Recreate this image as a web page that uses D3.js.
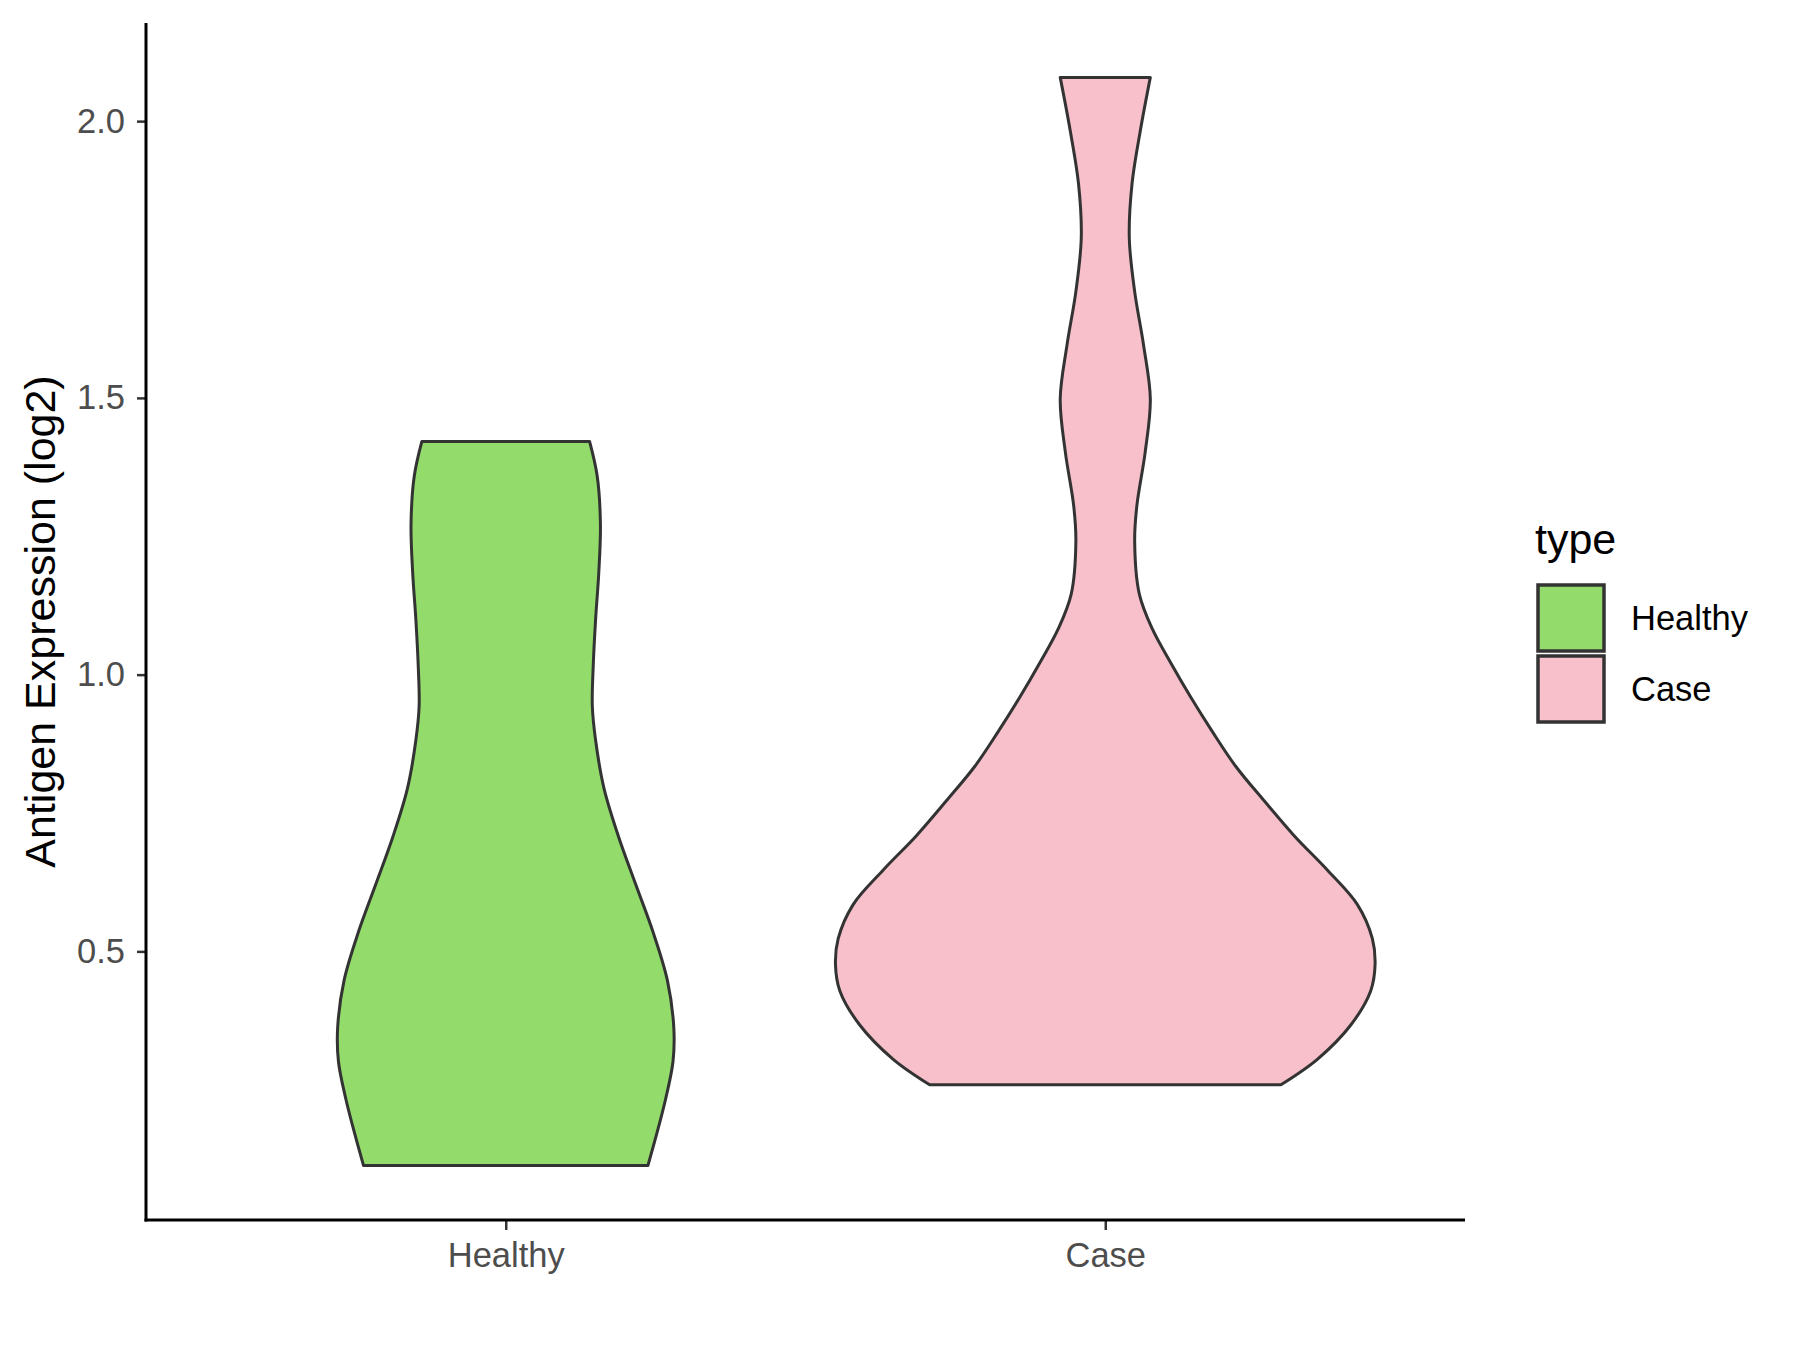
<!DOCTYPE html>
<html>
<head>
<meta charset="utf-8">
<script src="https://cdn.jsdelivr.net/npm/d3@7"></script>
<style>
  html, body { margin: 0; padding: 0; background: #ffffff; }
  svg { display: block; font-family: "Liberation Sans", Arial, Helvetica, sans-serif; }
</style>
</head>
<body>
<svg id="chart" width="1800" height="1350"></svg>
<script>
// ---- data ----
const categories = ["Healthy", "Case"];
const fillColors = ["#93DB6B", "#F7C0CB"];
const yTicks = [0.5, 1.0, 1.5, 2.0];
const yTickLabels = ["0.5", "1.0", "1.5", "2.0"];

// violin outline samples: value (log2) and relative half-width (1 = widest violin)
const healthyValues = [1.421, 1.359, 1.272, 1.185, 1.099, 1.012, 0.943, 0.882, 0.795, 0.709, 0.622, 0.535, 0.448, 0.362, 0.301, 0.232, 0.162, 0.113];
const healthyWidths = [0.311, 0.339, 0.351, 0.345, 0.333, 0.324, 0.321, 0.333, 0.364, 0.417, 0.481, 0.546, 0.599, 0.623, 0.620, 0.592, 0.555, 0.527];

const caseValues = [2.079, 1.983, 1.886, 1.789, 1.692, 1.595, 1.498, 1.402, 1.305, 1.241, 1.146, 1.083, 1.021, 0.959, 0.897, 0.834, 0.772, 0.709, 0.647, 0.585, 0.523, 0.476, 0.429, 0.367, 0.305, 0.259];
const caseWidths = [0.167, 0.130, 0.099, 0.089, 0.109, 0.142, 0.167, 0.148, 0.117, 0.109, 0.126, 0.174, 0.243, 0.317, 0.397, 0.484, 0.589, 0.700, 0.823, 0.934, 0.990, 1.000, 0.984, 0.910, 0.786, 0.651];

const yTitle = "Antigen Expression (log2)";
const legendTitle = "type";

// ---- layout ----
const panel = { left: 146, right: 1465, top: 23, bottom: 1220 };

const svg = d3.select("#chart");

const allValues = healthyValues.concat(caseValues);
const lo = d3.min(allValues), hi = d3.max(allValues);
const span = hi - lo;

const y = d3.scaleLinear()
  .domain([lo - 0.05 * span, hi + 0.05 * span])
  .range([panel.bottom, panel.top]);

const x = d3.scalePoint()
  .domain(categories)
  .range([panel.left, panel.right])
  .padding(0.6);

const w = d3.scaleLinear().domain([0, 1]).range([0, 0.45 * x.step()]);

const violins = [
  { cat: "Healthy", values: healthyValues, widths: healthyWidths, fill: fillColors[0] },
  { cat: "Case", values: caseValues, widths: caseWidths, fill: fillColors[1] }
];

const area = d3.area()
  .curve(d3.curveCatmullRom.alpha(0.5));

violins.forEach(v => {
  const cx = x(v.cat);
  const pts = v.values.map((val, i) => ({ v: val, d: v.widths[i] }));
  area
    .y(d => y(d.v))
    .x0(d => cx - w(d.d))
    .x1(d => cx + w(d.d));
  svg.append("path")
    .attr("d", area(pts))
    .attr("fill", v.fill)
    .attr("stroke", "#333333")
    .attr("stroke-width", 3)
    .attr("stroke-linejoin", "round");
});

// ---- axes ----
const yAxis = d3.axisLeft(y)
  .tickValues(yTicks)
  .tickFormat((d, i) => yTickLabels[i])
  .tickSize(9)
  .tickPadding(12);

const gy = svg.append("g")
  .attr("transform", `translate(${panel.left},0)`)
  .call(yAxis);
gy.select(".domain").remove();
gy.selectAll(".tick line").attr("stroke", "#333333").attr("stroke-width", 2.5);
gy.selectAll(".tick text")
  .attr("fill", "#4D4D4D")
  .style("font-size", "34.5px")
  .style("font-family", "'Liberation Sans', Arial, sans-serif");

const xAxis = d3.axisBottom(x)
  .tickSize(10)
  .tickPadding(13);

const gx = svg.append("g")
  .attr("transform", `translate(0,${panel.bottom})`)
  .call(xAxis);
gx.select(".domain").remove();
gx.selectAll(".tick line").attr("stroke", "#333333").attr("stroke-width", 2.5);
gx.selectAll(".tick text")
  .attr("fill", "#4D4D4D")
  .style("font-size", "34.5px")
  .style("font-family", "'Liberation Sans', Arial, sans-serif");

// axis lines
svg.append("line")
  .attr("x1", panel.left).attr("x2", panel.left)
  .attr("y1", panel.top).attr("y2", panel.bottom + 1.5)
  .attr("stroke", "#000").attr("stroke-width", 3);
svg.append("line")
  .attr("x1", panel.left - 1.5).attr("x2", panel.right)
  .attr("y1", panel.bottom).attr("y2", panel.bottom)
  .attr("stroke", "#000").attr("stroke-width", 3);

// y title
svg.append("text")
  .attr("transform", `translate(55,${(panel.top + panel.bottom) / 2}) rotate(-90)`)
  .attr("text-anchor", "middle")
  .attr("fill", "#000")
  .style("font-size", "43px")
  .text(yTitle);

// ---- legend ----
const lg = svg.append("g");
lg.append("text")
  .attr("x", 1535).attr("y", 554)
  .attr("fill", "#000")
  .style("font-size", "43px")
  .text(legendTitle);

const keySize = 66;
categories.forEach((c, i) => {
  const ky = 585 + i * (keySize + 5);
  lg.append("rect")
    .attr("x", 1538).attr("y", ky)
    .attr("width", keySize).attr("height", keySize)
    .attr("fill", fillColors[i])
    .attr("stroke", "#333333")
    .attr("stroke-width", 3.5);
  lg.append("text")
    .attr("x", 1631).attr("y", ky + keySize / 2)
    .attr("dy", "0.35em")
    .attr("fill", "#000")
    .style("font-size", "34.5px")
    .text(c);
});
</script>
</body>
</html>
